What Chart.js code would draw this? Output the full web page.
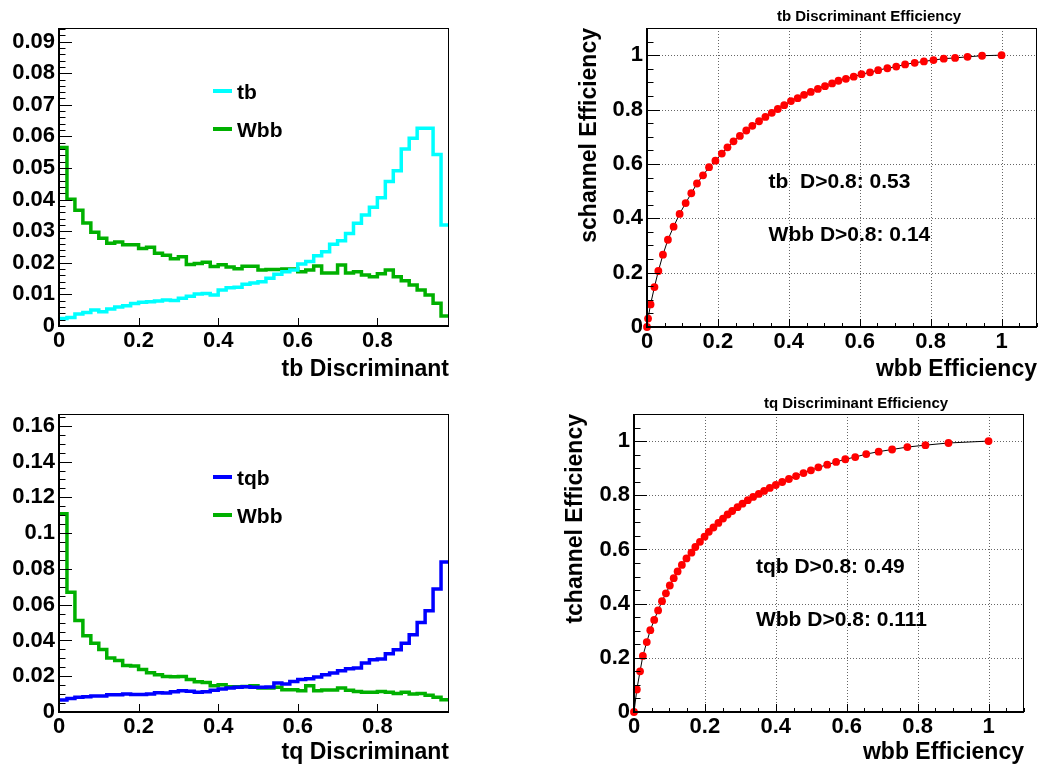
<!DOCTYPE html>
<html>
<head>
<meta charset="utf-8">
<title>tb / tq discriminants</title>
<script src="https://cdn.jsdelivr.net/npm/chart.js@4.4.0/dist/chart.umd.min.js"></script>
<style>
  body { margin: 0; background: #fff; width: 1041px; height: 766px; position: relative; overflow: hidden; }
  .pad { position: absolute; }
</style>
</head>
<body>
<div class="pad" style="left:0;top:0"><canvas id="tbHist" width="520" height="383"></canvas></div>
<div class="pad" style="left:560px;top:0"><canvas id="tbRoc" width="481" height="383"></canvas></div>
<div class="pad" style="left:0;top:383px"><canvas id="tqHist" width="520" height="383"></canvas></div>
<div class="pad" style="left:560px;top:383px"><canvas id="tqRoc" width="481" height="383"></canvas></div>
<script>
// bin lower edges (last entry = upper edge of the last bin)
const binEdges = [0.00, 0.02, 0.04, 0.06, 0.08, 0.10, 0.12, 0.14, 0.16, 0.18,
                  0.20, 0.22, 0.24, 0.26, 0.28, 0.30, 0.32, 0.34, 0.36, 0.38,
                  0.40, 0.42, 0.44, 0.46, 0.48, 0.50, 0.52, 0.54, 0.56, 0.58,
                  0.60, 0.62, 0.64, 0.66, 0.68, 0.70, 0.72, 0.74, 0.76, 0.78,
                  0.80, 0.82, 0.84, 0.86, 0.88, 0.90, 0.92, 0.94, 0.96, 0.98];

// tb discriminant
const tbSignal = [0.0024, 0.0027, 0.0038, 0.0043, 0.0051, 0.0045, 0.0054, 0.0060, 0.0064, 0.0071,
                  0.0075, 0.0077, 0.0079, 0.0082, 0.0081, 0.0088, 0.0094, 0.0101, 0.0103, 0.0098,
                  0.0114, 0.0121, 0.0123, 0.0132, 0.0136, 0.0140, 0.0151, 0.0164, 0.0172, 0.0177,
                  0.0196, 0.0204, 0.0222, 0.0235, 0.0259, 0.0270, 0.0293, 0.0325, 0.0351, 0.0376,
                  0.0406, 0.0457, 0.0491, 0.0560, 0.0594, 0.0626, 0.0626, 0.0543, 0.0320];
const tbWbb = [0.0565, 0.0401, 0.0366, 0.0326, 0.0297, 0.0278, 0.0262, 0.0266, 0.0257, 0.0257,
               0.0245, 0.0249, 0.0230, 0.0224, 0.0213, 0.0219, 0.0195, 0.0198, 0.0202, 0.0188,
               0.0194, 0.0187, 0.0181, 0.0189, 0.0189, 0.0177, 0.0179, 0.0179, 0.0180, 0.0180,
               0.0172, 0.0177, 0.0190, 0.0168, 0.0168, 0.0193, 0.0168, 0.0172, 0.0161, 0.0156,
               0.0165, 0.0177, 0.0156, 0.0143, 0.0130, 0.0114, 0.0098, 0.0072, 0.0032];

// tq discriminant
const tqSignal = [0.0067, 0.0076, 0.0082, 0.0085, 0.0089, 0.0089, 0.0097, 0.0097, 0.0100, 0.0098,
                  0.0098, 0.0100, 0.0108, 0.0106, 0.0113, 0.0119, 0.0116, 0.0110, 0.0113, 0.0121,
                  0.0128, 0.0134, 0.0138, 0.0141, 0.0138, 0.0138, 0.0140, 0.0162, 0.0156, 0.0171,
                  0.0181, 0.0186, 0.0196, 0.0208, 0.0218, 0.0231, 0.0242, 0.0246, 0.0274, 0.0292,
                  0.0296, 0.0326, 0.0348, 0.0385, 0.0432, 0.0501, 0.0566, 0.0687, 0.0838];
const tqWbb = [0.1108, 0.0670, 0.0512, 0.0426, 0.0385, 0.0350, 0.0302, 0.0288, 0.0260, 0.0257,
               0.0238, 0.0220, 0.0208, 0.0199, 0.0197, 0.0199, 0.0182, 0.0169, 0.0165, 0.0147,
               0.0153, 0.0141, 0.0141, 0.0143, 0.0147, 0.0134, 0.0134, 0.0138, 0.0125, 0.0125,
               0.0119, 0.0147, 0.0119, 0.0123, 0.0123, 0.0134, 0.0121, 0.0115, 0.0111, 0.0110,
               0.0115, 0.0110, 0.0104, 0.0111, 0.0101, 0.0104, 0.0093, 0.0082, 0.0069];

// efficiency curves (wbb eff, signal eff)
const tbRocX = [0, 0.003, 0.010, 0.021, 0.032, 0.045, 0.059, 0.075, 0.092, 0.109,
                0.125, 0.141, 0.158, 0.175, 0.193, 0.211, 0.227, 0.244, 0.262, 0.280,
                0.297, 0.316, 0.334, 0.352, 0.369, 0.387, 0.406, 0.425, 0.443, 0.462,
                0.482, 0.502, 0.522, 0.540, 0.561, 0.583, 0.605, 0.629, 0.652, 0.678,
                0.703, 0.728, 0.755, 0.781, 0.808, 0.837, 0.869, 0.904, 0.945, 1];
const tbRocY = [0, 0.031, 0.083, 0.147, 0.206, 0.266, 0.321, 0.369, 0.416, 0.456,
                0.492, 0.528, 0.558, 0.588, 0.612, 0.638, 0.661, 0.683, 0.703, 0.723,
                0.740, 0.757, 0.773, 0.788, 0.802, 0.816, 0.831, 0.842, 0.854, 0.865,
                0.876, 0.886, 0.896, 0.906, 0.913, 0.921, 0.930, 0.937, 0.945, 0.952,
                0.958, 0.966, 0.972, 0.977, 0.982, 0.987, 0.990, 0.994, 0.998, 1];
const tqRocX = [0, 0.008, 0.017, 0.025, 0.036, 0.046, 0.057, 0.068, 0.079, 0.090,
                0.101, 0.112, 0.123, 0.135, 0.148, 0.162, 0.173, 0.186, 0.199, 0.211,
                0.224, 0.238, 0.251, 0.264, 0.277, 0.292, 0.306, 0.321, 0.336, 0.352,
                0.367, 0.383, 0.400, 0.418, 0.437, 0.457, 0.478, 0.499, 0.520, 0.545,
                0.570, 0.596, 0.624, 0.655, 0.690, 0.728, 0.771, 0.822, 0.887, 1];
const tqRocY = [0, 0.083, 0.150, 0.207, 0.258, 0.302, 0.340, 0.375, 0.409, 0.438,
                0.467, 0.494, 0.519, 0.543, 0.567, 0.588, 0.609, 0.628, 0.647, 0.665,
                0.681, 0.698, 0.714, 0.729, 0.742, 0.756, 0.769, 0.782, 0.794, 0.805,
                0.816, 0.827, 0.838, 0.849, 0.860, 0.871, 0.882, 0.892, 0.903, 0.913,
                0.923, 0.933, 0.941, 0.952, 0.961, 0.969, 0.978, 0.985, 0.993, 1];

// tick labels
const histXTicks = [0, 0.2, 0.4, 0.6, 0.8];
const tbHistYTicks = [0, 0.01, 0.02, 0.03, 0.04, 0.05, 0.06, 0.07, 0.08, 0.09];
const tqHistYTicks = [0, 0.02, 0.04, 0.06, 0.08, 0.1, 0.12, 0.14, 0.16];
const rocTicks = [0, 0.2, 0.4, 0.6, 0.8, 1];

const FONT = '"Liberation Sans", Arial, Helvetica, sans-serif';
const tickFont = { family: FONT, size: 22, weight: 'bold', lineHeight: 1.2 };
const axisTitleFont = { family: FONT, size: 23, weight: 'bold', lineHeight: 1.2 };
const fmt = v => String(parseFloat(Number(v).toFixed(3)));

function stepPoints(values) {
    const pts = values.map((v, i) => ({ x: binEdges[i], y: v }));
    pts.push({ x: binEdges[values.length], y: values[values.length - 1] });
    return pts;
}

function curvePoints(xs, ys) {
    return xs.map((x, i) => ({ x: x, y: ys[i] }));
}

// ROOT-like pad: frame, inward ticks, dotted grid, legend and latex texts
const rootPad = {
    id: 'rootPad',
    beforeDatasetsDraw(chart, args, o) {
        if (!o.grid) return;
        const { ctx, chartArea: a, scales: { x, y } } = chart;
        ctx.save();
        ctx.strokeStyle = '#666';
        ctx.lineWidth = 1;
        ctx.setLineDash([1, 2]);
        o.grid.forEach(v => {
            if (v <= 0) return;
            const px = Math.round(x.getPixelForValue(v)) + 0.5;
            ctx.beginPath(); ctx.moveTo(px, a.top); ctx.lineTo(px, a.bottom); ctx.stroke();
            const py = Math.round(y.getPixelForValue(v)) + 0.5;
            ctx.beginPath(); ctx.moveTo(a.left, py); ctx.lineTo(a.right, py); ctx.stroke();
        });
        ctx.restore();
    },
    afterDatasetsDraw(chart, args, o) {
        const { ctx, chartArea: a, scales: { x, y } } = chart;
        ctx.save();
        ctx.strokeStyle = '#000';
        ctx.lineWidth = 1;
        ctx.strokeRect(a.left + 0.5, a.top + 0.5, a.width - 1, a.height - 1);

        // inward ticks on bottom and left axes
        const ticksOn = (scale, minor, len, horiz) => {
            const lines = scale.ticks.map(t => [t.value, len[0]]);
            if (minor) {
                for (let i = 0; i * minor <= scale.max + 1e-9; i++) lines.push([i * minor, len[1]]);
            }
            lines.forEach(([v, l]) => {
                const p = Math.round(scale.getPixelForValue(v)) + 0.5;
                ctx.beginPath();
                if (horiz) { ctx.moveTo(p, a.bottom); ctx.lineTo(p, a.bottom - l); }
                else { ctx.moveTo(a.left, p); ctx.lineTo(a.left + l, p); }
                ctx.stroke();
            });
        };
        ticksOn(x, o.xMinor, o.xLen, true);
        ticksOn(y, o.yMinor, o.yLen, false);

        ctx.lineWidth = 2;
        ctx.beginPath();
        ctx.moveTo(a.left, a.top); ctx.lineTo(a.left, a.bottom); ctx.lineTo(a.right, a.bottom);
        ctx.stroke();

        // legend
        if (o.legend) {
            ctx.font = 'bold 21px ' + FONT;
            ctx.textBaseline = 'middle';
            ctx.textAlign = 'left';
            chart.data.datasets.forEach((ds, i) => {
                const ly = o.legend.ys[i];
                ctx.strokeStyle = ds.borderColor;
                ctx.lineWidth = 4;
                ctx.beginPath(); ctx.moveTo(o.legend.x0, ly); ctx.lineTo(o.legend.x1, ly); ctx.stroke();
                ctx.fillStyle = '#000';
                ctx.fillText(ds.label, o.legend.tx, ly + 2);
            });
        }

        // text notes in data coordinates
        if (o.notes) {
            ctx.font = 'bold 21px ' + FONT;
            ctx.textBaseline = 'middle';
            ctx.textAlign = 'left';
            ctx.fillStyle = '#000';
            o.notes.forEach(n => ctx.fillText(n.text, x.getPixelForValue(n.x), y.getPixelForValue(n.y)));
        }

        if (o.title) {
            ctx.font = 'bold 15px ' + FONT;
            ctx.textBaseline = 'middle';
            ctx.textAlign = 'center';
            ctx.fillStyle = '#000';
            ctx.fillText(o.title.text, o.title.x, o.title.y);
        }
        ctx.restore();
    }
};

function axis(opts) {
    return {
        type: 'linear',
        min: opts.min,
        max: opts.max,
        grid: { display: false, drawTicks: false },
        border: { display: false },
        afterBuildTicks: s => { s.ticks = opts.ticks.map(v => ({ value: v })); },
        afterFit: s => { if (opts.width) s.width = opts.width; if (opts.height) s.height = opts.height; },
        ticks: { padding: opts.pad, font: tickFont, color: '#000', callback: v => fmt(v), maxRotation: 0, autoSkip: false },
        title: {
            display: !!opts.title,
            text: opts.title || '',
            align: 'end',
            font: axisTitleFont,
            color: '#000',
            padding: opts.titlePad || 0
        }
    };
}

function histChart(id, signal, wbb, sigLabel, sigColor, yMax, yTicks, yMinor, xTitle, top, xHeight, legendYs) {
    return new Chart(document.getElementById(id), {
        type: 'line',
        data: {
            datasets: [
                { label: sigLabel, data: stepPoints(signal), borderColor: sigColor, borderWidth: 3.5,
                  stepped: 'before', pointRadius: 0, fill: false, borderJoinStyle: 'miter' },
                { label: 'Wbb', data: stepPoints(wbb), borderColor: '#00b000', borderWidth: 3.5,
                  stepped: 'before', pointRadius: 0, fill: false, borderJoinStyle: 'miter' }
            ]
        },
        options: {
            responsive: false,
            animation: false,
            events: [],
            layout: { padding: { top: top, right: 71, left: 0, bottom: 0 } },
            plugins: {
                legend: { display: false },
                tooltip: { enabled: false },
                rootPad: {
                    xMinor: null, yMinor: yMinor, xLen: [8, 4], yLen: [13, 6.5],
                    legend: { x0: 213, x1: 232, tx: 237, ys: legendYs }
                }
            },
            scales: {
                x: axis({ min: 0, max: 0.98, ticks: histXTicks, height: xHeight, pad: 2, title: xTitle }),
                y: axis({ min: 0, max: yMax, ticks: yTicks, width: 59, pad: 4 })
            }
        },
        plugins: [rootPad]
    });
}

function rocChart(id, xs, ys, left, right, top, xHeight, yTitle, yTitlePad, title, notes) {
    return new Chart(document.getElementById(id), {
        type: 'line',
        data: {
            datasets: [{
                label: yTitle,
                data: curvePoints(xs, ys),
                borderColor: '#000',
                borderWidth: 1,
                pointRadius: 3.9,
                pointBorderWidth: 0,
                pointBackgroundColor: '#ff0000',
                pointBorderColor: '#ff0000',
                tension: 0,
                fill: false,
                clip: false
            }]
        },
        options: {
            responsive: false,
            animation: false,
            events: [],
            layout: { padding: { top: top, right: right, left: 0, bottom: 0 } },
            plugins: {
                legend: { display: false },
                tooltip: { enabled: false },
                rootPad: {
                    grid: rocTicks, xMinor: 0.05, yMinor: 0.05, xLen: [8, 4], yLen: [13, 6.5],
                    title: title, notes: notes
                }
            },
            scales: {
                x: axis({ min: 0, max: 1.1, ticks: rocTicks, height: xHeight, pad: 2, title: 'wbb Efficiency' }),
                y: axis({ min: 0, max: 1.1, ticks: rocTicks, width: left, pad: 4, title: yTitle, titlePad: { top: yTitlePad } })
            }
        },
        plugins: [rootPad]
    });
}

histChart('tbHist', tbSignal, tbWbb, 'tb', '#00ffff', 0.0943, tbHistYTicks, 0.002,
          'tb Discriminant', 28, 57, [91, 129]);
histChart('tqHist', tqSignal, tqWbb, 'tqb', '#0000ff', 0.1666, tqHistYTicks, 0.005,
          'tq Discriminant', 31, 54, [94, 132]);

rocChart('tbRoc', tbRocX, tbRocY, 87, 4, 28, 56, 'schannel Efficiency', 16,
         { text: 'tb Discriminant Efficiency', x: 309, y: 17 },
         [{ x: 0.343, y: 0.533, text: 'tb  D>0.8: 0.53' }, { x: 0.343, y: 0.337, text: 'Wbb D>0.8: 0.14' }]);
rocChart('tqRoc', tqRocX, tqRocY, 74, 17, 31, 54, 'tchannel Efficiency', 2,
         { text: 'tq Discriminant Efficiency', x: 296, y: 21 },
         [{ x: 0.344, y: 0.535, text: 'tqb D>0.8: 0.49' }, { x: 0.344, y: 0.34, text: 'Wbb D>0.8: 0.111' }]);
</script>
</body>
</html>
